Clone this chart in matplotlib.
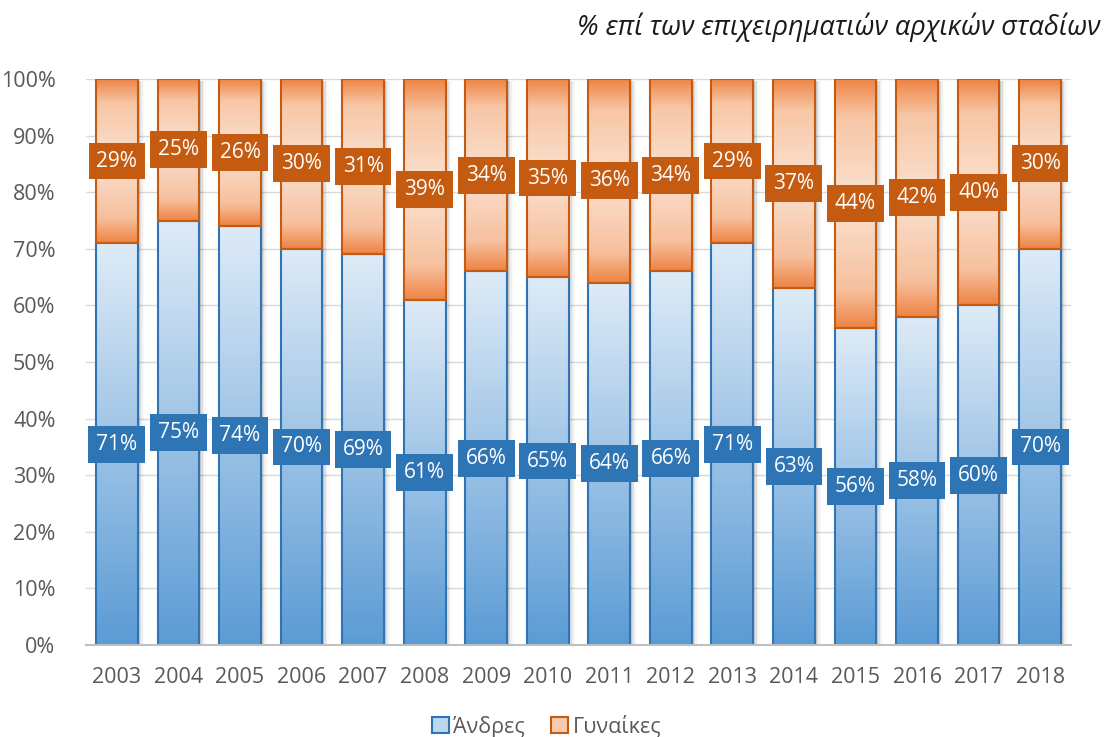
import matplotlib
matplotlib.use("Agg")
import matplotlib.pyplot as plt
import numpy as np
from matplotlib.colors import LinearSegmentedColormap
from matplotlib.patches import Patch, Rectangle

plt.rcParams['font.family'] = ['Open Sans', 'DejaVu Sans']

years = ['2003', '2004', '2005', '2006', '2007', '2008', '2009', '2010',
         '2011', '2012', '2013', '2014', '2015', '2016', '2017', '2018']
men = [71, 75, 74, 70, 69, 61, 66, 65, 64, 66, 71, 63, 56, 58, 60, 70]
women = [29, 25, 26, 30, 31, 39, 34, 35, 36, 34, 29, 37, 44, 42, 40, 30]
series_names = ['Άνδρες', 'Γυναίκες']
title = '% επί των επιχειρηματιών αρχικών σταδίων'

blue_edge = '#2e75b6'
orange_edge = '#c55a11'
blue_cmap = LinearSegmentedColormap.from_list('b', ['#5b9bd5', '#9dc3e6', '#deebf7'])
orange_cmap = LinearSegmentedColormap.from_list(
    'o', [(0.0, '#ee8444'), (0.15, '#f6c09d'), (0.5, '#fbe2d2'),
          (0.85, '#f7c6a5'), (1.0, '#ee8444')])

fig = plt.figure(figsize=(11.04, 7.37), dpi=100)
ax = fig.add_axes([0.078, 0.1248, 0.892, 0.768])

x = np.arange(len(years))
w = 0.68
men_bars = ax.bar(x, men, width=w, facecolor='none', edgecolor=blue_edge, linewidth=1.5, zorder=4)
women_bars = ax.bar(x, women, width=w, bottom=men, facecolor='none', edgecolor=orange_edge, linewidth=1.5, zorder=4)

grad = np.linspace(0, 1, 256).reshape(-1, 1)
for bars, cmap in ((men_bars, blue_cmap), (women_bars, orange_cmap)):
    for b in bars:
        x0, y0, bw, bh = b.get_x(), b.get_y(), b.get_width(), b.get_height()
        ax.imshow(grad, cmap=cmap, extent=(x0, x0 + bw, y0, y0 + bh),
                  origin='lower', aspect='auto', zorder=3, interpolation='bilinear')
        for k, a in enumerate([0.10, 0.07, 0.04, 0.02]):
            dx = 0.03 + k * 0.025
            ax.add_patch(Rectangle((x0 + dx, y0 - 0.3), bw, bh, facecolor='black',
                                   alpha=a, linewidth=0, zorder=2))

for bars, vals, col in ((men_bars, men, blue_edge), (women_bars, women, orange_edge)):
    for b, v in zip(bars, vals):
        ax.text(b.get_x() + b.get_width() / 2, b.get_y() + b.get_height() / 2, f'{v}%',
                ha='center', va='center', color='white', fontsize=15, zorder=6,
                bbox=dict(boxstyle='square,pad=0.38', facecolor=col, edgecolor='none'))

ax.set_xlim(-0.5, len(years) - 0.5)
ax.set_ylim(0, 100)
ax.set_yticks(np.arange(0, 101, 10))
ax.set_yticklabels([f'{t}%' for t in range(0, 101, 10)])
ax.set_xticks(x)
ax.set_xticklabels(years)
ax.tick_params(axis='both', length=0, labelsize=15.5, labelcolor='#595959')
ax.tick_params(axis='x', pad=16)
ax.tick_params(axis='y', pad=22)
ax.grid(axis='y', color='#d9d9d9', linewidth=1, zorder=0)
ax.set_axisbelow(True)
for s in ['top', 'right', 'left']:
    ax.spines[s].set_visible(False)
ax.spines['bottom'].set_color('#bfbfbf')
ax.spines['bottom'].set_linewidth(1.5)
ax.spines['bottom'].set_zorder(5)

fig.text(0.997, 0.963, title, ha='right', va='center', fontsize=19.5, style='italic', color='#1a1a1a')

handles = [Patch(facecolor='#bdd7ee', edgecolor=blue_edge, linewidth=1.5),
           Patch(facecolor='#f8cbad', edgecolor=orange_edge, linewidth=1.5)]
fig.legend(handles, series_names, loc='center', bbox_to_anchor=(0.495, 0.014), ncol=2,
           frameon=False, fontsize=15.5, handlelength=0.8, handleheight=0.8,
           handletextpad=0.2, columnspacing=1.2, labelcolor='#595959')

fig.savefig('out.png', dpi=100)
